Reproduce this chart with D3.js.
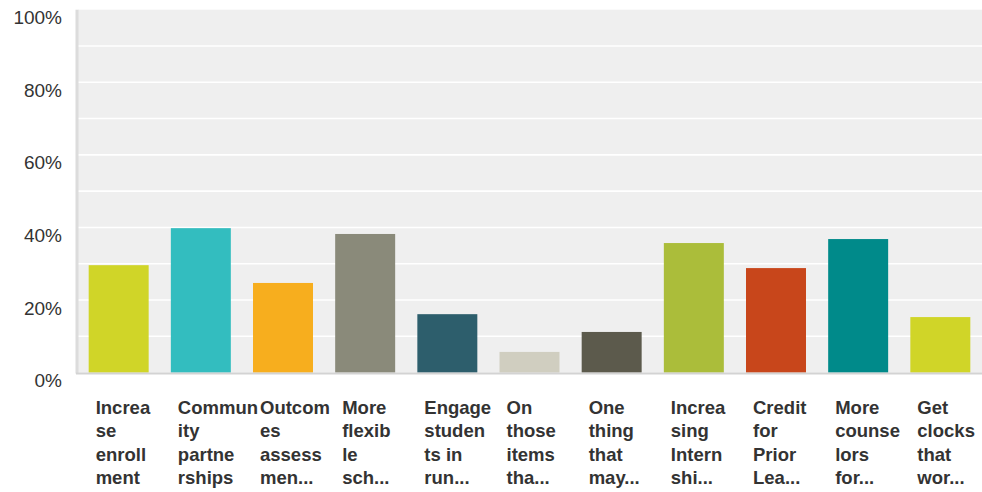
<!DOCTYPE html>
<html>
<head>
<meta charset="utf-8">
<script src="https://cdn.jsdelivr.net/npm/d3@7"></script>
<style>
  body { margin: 0; background: #fff; }
  svg { display: block; font-family: "Liberation Sans", Arial, sans-serif; }
</style>
</head>
<body>
<div id="chart"></div>
<script>
// answer choices, as wrapped / truncated in the picture
var categories = [
  ["Increa", "se", "enroll", "ment"],
  ["Commun", "ity", "partne", "rships"],
  ["Outcom", "es", "assess", "men..."],
  ["More", "flexib", "le", "sch..."],
  ["Engage", "studen", "ts in", "run..."],
  ["On", "those", "items", "tha..."],
  ["One", "thing", "that", "may..."],
  ["Increa", "sing", "Intern", "shi..."],
  ["Credit", "for", "Prior", "Lea..."],
  ["More", "counse", "lors", "for..."],
  ["Get", "clocks", "that", "wor..."]
];
var values = [29.6, 39.8, 24.7, 38.2, 16.1, 5.7, 11.2, 35.7, 28.8, 36.8, 15.3];
var barColors = ["#d0d528", "#33bdbf", "#f7ae1e", "#8a8a7a", "#2d5e6c", "#d0cec0",
                 "#5c5a4c", "#abbd3a", "#c8461b", "#008a8a", "#d0d528"];
var yTicks = [0, 20, 40, 60, 80, 100];
var gridTicks = [10, 20, 30, 40, 50, 60, 70, 80, 90];

function drawChart() {
  var W = 982, H = 492;
  var mLeft = 78, mRight = 982, mTop = 9.7, mBottom = 372.6;

  var svg = d3.select("#chart").append("svg")
    .attr("width", W).attr("height", H);

  var ids = categories.map(function(d, i) { return i; });

  var x = d3.scaleBand()
    .domain(ids)
    .range([mLeft, mRight - 1])
    .paddingInner(0.27)
    .paddingOuter(0.13);

  var y = d3.scaleLinear()
    .domain([0, 100])
    .range([mBottom, mTop]);

  // plot background
  svg.append("rect")
    .attr("x", mLeft).attr("y", y(100))
    .attr("width", mRight - mLeft).attr("height", y(0) - y(100))
    .attr("fill", "#efefef");

  // white gridlines
  svg.append("g").selectAll("line")
    .data(gridTicks)
    .enter().append("line")
      .attr("x1", mLeft).attr("x2", mRight)
      .attr("y1", function(d) { return y(d); })
      .attr("y2", function(d) { return y(d); })
      .attr("stroke", "#ffffff")
      .attr("stroke-width", 1.6);

  // left axis stripe
  svg.append("rect")
    .attr("x", 75.5).attr("y", y(100))
    .attr("width", 3).attr("height", y(0) - y(100) + 1)
    .attr("fill", "#dcdcdc");

  // y axis labels (sit a bit below their gridlines, like the original)
  var yAxis = d3.axisLeft(y)
    .tickValues(yTicks)
    .tickFormat(function(d) { return d + "%"; })
    .tickSize(0)
    .tickPadding(0);

  var ya = svg.append("g")
    .attr("transform", "translate(62,8)")
    .call(yAxis);
  ya.select(".domain").remove();
  ya.selectAll("text")
    .attr("fill", "#333")
    .style("font-size", "19px")
    .style("font-family", "Liberation Sans, Arial, sans-serif");

  // bars
  svg.append("g").selectAll("rect")
    .data(values)
    .enter().append("rect")
      .attr("x", function(d, i) { return x(i); })
      .attr("y", function(d) { return y(d); })
      .attr("width", x.bandwidth())
      .attr("height", function(d) { return y(0) - y(d); })
      .attr("fill", function(d, i) { return barColors[i]; });

  // bottom axis line
  svg.append("line")
    .attr("x1", 76).attr("x2", mRight)
    .attr("y1", y(0) + 1).attr("y2", y(0) + 1)
    .attr("stroke", "#d3d3d3")
    .attr("stroke-width", 2);

  // category labels
  var lab = svg.append("g").selectAll("text")
    .data(categories)
    .enter().append("text")
      .attr("x", function(d, i) { return x(i) + 7; })
      .attr("y", 414)
      .attr("fill", "#333")
      .style("font-size", "18.5px")
      .style("font-weight", "bold");

  lab.selectAll("tspan")
    .data(function(d, i) { return d.map(function(s) { return { s: s, i: i }; }); })
    .enter().append("tspan")
      .attr("x", function(d) { return x(d.i) + 7; })
      .attr("dy", function(d, j) { return j === 0 ? 0 : 23.3; })
      .text(function(d) { return d.s; });
}

drawChart();
</script>
</body>
</html>
